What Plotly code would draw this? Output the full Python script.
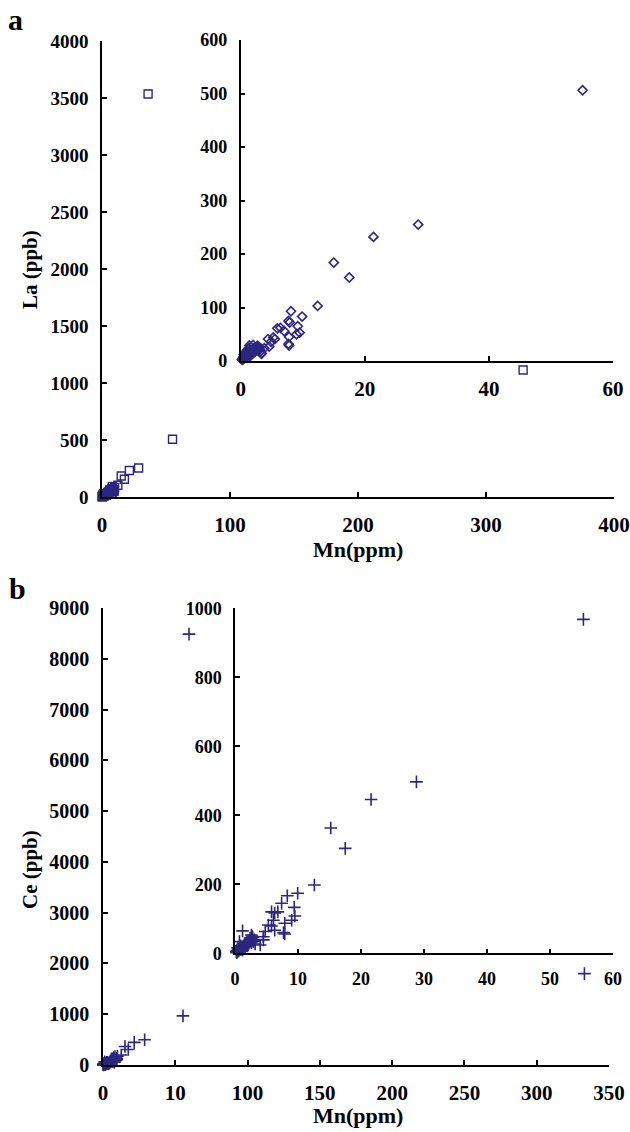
import plotly.graph_objects as go

# ---------- data: panel a (La vs Mn) ----------
mn_a = [55.1, 28.6, 21.4, 15.0, 17.5, 12.4, 8.1, 9.9, 7.7, 7.9, 9.2, 6.4, 5.9, 7.0, 9.5,
        9.0, 7.8, 7.7, 7.8, 5.25, 5.5, 4.4, 4.9, 4.6, 3.8, 3.4, 2.6, 2.0, 1.4,
        0.2, 0.3, 0.4, 0.5, 0.6, 0.7, 0.8, 0.9, 1.0, 1.1, 1.2, 1.3, 1.5, 1.6, 1.7, 1.8,
        1.9, 2.1, 2.2, 2.3, 2.4, 2.5, 2.7, 2.8, 2.9, 3.0, 3.1, 3.2, 0.5, 0.8, 1.0, 1.3,
        1.6, 2.0, 2.4, 2.8, 3.3, 0.3, 0.6, 1.1]
la_a = [506, 255, 232, 184, 156, 103, 93, 83, 75, 72, 65, 62, 61, 56, 53,
        50, 45, 32, 29, 44, 41, 41, 36, 27, 24, 14, 27, 30, 29,
        3, 5, 4, 8, 6, 10, 7, 12, 9, 14, 11, 15, 18, 13, 20, 16,
        22, 19, 25, 17, 21, 23, 28, 20, 24, 26, 22, 18, 12, 16, 20, 24,
        10, 15, 19, 27, 14, 2, 8, 6]
# extra points visible only on the main (full-range) plot
mn_a_extra = [36, 329]
la_a_extra = [3535, 1114]

# ---------- data: panel b (Ce vs Mn) ----------
mn_b = [55.3, 28.8, 21.6, 15.2, 17.5, 12.6, 9.95, 8.3, 7.4, 9.4, 9.5, 9.0, 7.9, 7.7, 7.9,
        5.8, 6.3, 6.8, 6.1, 5.3, 5.8, 6.3, 4.8, 4.5, 4.5, 4.0, 1.2, 2.6, 2.8, 2.9, 0.7,
        0.2, 0.3, 0.4, 0.5, 0.6, 0.8, 0.9, 1.0, 1.1, 1.3, 1.4, 1.5, 1.6, 1.7, 1.8, 1.9,
        2.0, 2.1, 2.2, 2.3, 2.4, 2.5, 2.6, 2.7, 2.8, 3.0, 3.2, 0.4, 0.9, 1.2, 1.6, 2.0,
        2.4, 2.7, 3.1, 0.3, 0.6]
ce_b = [968, 497, 446, 363, 304, 198, 174, 167, 145, 133, 108, 96, 87, 60, 56,
        120, 117, 120, 96, 82, 79, 67, 63, 48, 39, 24, 65, 53, 47, 34, 34,
        4, 8, 6, 12, 10, 15, 11, 18, 14, 20, 16, 24, 19, 28, 22, 30,
        26, 33, 29, 38, 35, 42, 31, 45, 40, 36, 27, 16, 22, 9, 26, 21,
        44, 50, 39, 2, 7]
mn_b_extra = [59.5, 333]
ce_b_extra = [8485, 1800]

COLOR = "#2d2680"
FONT = "Liberation Serif"


def tf(size):
    return dict(family=FONT, size=size, color="black", weight="bold")


fig = go.Figure()

# main a
fig.add_trace(go.Scatter(x=mn_a + mn_a_extra, y=la_a + la_a_extra, mode="markers",
                         marker=dict(symbol="square-open", size=8, color=COLOR,
                                     line=dict(width=1.4, color=COLOR)),
                         cliponaxis=False, xaxis="x", yaxis="y", showlegend=False))
# inset a
fig.add_trace(go.Scatter(x=mn_a, y=la_a, mode="markers",
                         marker=dict(symbol="diamond-open", size=7, color=COLOR,
                                     line=dict(width=1.6, color=COLOR)),
                         cliponaxis=False, xaxis="x2", yaxis="y2", showlegend=False))
# main b
fig.add_trace(go.Scatter(x=mn_b + mn_b_extra, y=ce_b + ce_b_extra, mode="markers",
                         marker=dict(symbol="cross-thin-open", size=9, color=COLOR,
                                     line=dict(width=1.6, color=COLOR)),
                         cliponaxis=False, xaxis="x3", yaxis="y3", showlegend=False))
# inset b
fig.add_trace(go.Scatter(x=mn_b, y=ce_b, mode="markers",
                         marker=dict(symbol="cross-thin-open", size=9, color=COLOR,
                                     line=dict(width=1.6, color=COLOR)),
                         cliponaxis=False, xaxis="x4", yaxis="y4", showlegend=False))

W, H = 630, 1132


def px(v):
    return v / W


def py(v):
    return 1 - v / H


common = dict(showgrid=False, zeroline=False, showline=True, linecolor="black",
              linewidth=1.5, ticks="inside", ticklen=5, tickwidth=1.5, tickcolor="black",
              automargin=False)

fig.update_layout(
    width=W, height=H,
    margin=dict(l=0, r=0, t=0, b=0, autoexpand=False),
    paper_bgcolor="white", plot_bgcolor="rgba(0,0,0,0)",
    xaxis=dict(domain=[px(102), px(614)], range=[0, 400], anchor="y",
               tickvals=[0, 100, 200, 300, 400], tickfont=tf(21), ticklabelstandoff=8, **common),
    yaxis=dict(domain=[py(497), py(41)], range=[0, 4000], anchor="x",
               tickvals=[0, 500, 1000, 1500, 2000, 2500, 3000, 3500, 4000],
               tickfont=tf(19), ticklabelstandoff=8, **common),
    xaxis2=dict(domain=[px(240.7), px(613)], range=[0, 60], anchor="y2",
                tickvals=[0, 20, 40, 60], tickfont=tf(21), ticklabelstandoff=8, **common),
    yaxis2=dict(domain=[py(361), py(40)], range=[0, 600], anchor="x2",
                tickvals=[0, 100, 200, 300, 400, 500, 600],
                tickfont=tf(18), ticklabelstandoff=8, **common),
    xaxis3=dict(domain=[px(103), px(609)], range=[0, 350], anchor="y3",
                tickvals=[0, 50, 100, 150, 200, 250, 300, 350],
                ticktext=["0", "10", "100", "150", "200", "250", "300", "350"],
                tickfont=tf(21), ticklabelstandoff=8, **common),
    yaxis3=dict(domain=[py(1065), py(608)], range=[0, 9000], anchor="x3",
                tickvals=[0, 1000, 2000, 3000, 4000, 5000, 6000, 7000, 8000, 9000],
                tickfont=tf(20), ticklabelstandoff=8, **common),
    xaxis4=dict(domain=[px(235), px(613)], range=[0, 60], anchor="y4",
                tickvals=[0, 10, 20, 30, 40, 50, 60], tickfont=tf(18),
                ticklabelstandoff=8, **common),
    yaxis4=dict(domain=[py(953.3), py(608.3)], range=[0, 1000], anchor="x4",
                tickvals=[0, 200, 400, 600, 800, 1000],
                tickfont=tf(18), ticklabelstandoff=8, **common),
)

ann = [
    dict(text="a", x=px(15), y=py(19), font=dict(family=FONT, size=30, color="black", weight="bold")),
    dict(text="b", x=px(17), y=py(588), font=dict(family=FONT, size=30, color="black", weight="bold")),
    dict(text="La (ppb)", x=px(30), y=py(270), textangle=-90,
         font=dict(family=FONT, size=21, color="black", weight="bold")),
    dict(text="Ce (ppb)", x=px(30), y=py(870), textangle=-90,
         font=dict(family=FONT, size=21, color="black", weight="bold")),
    dict(text="Mn(ppm)", x=px(358), y=py(549),
         font=dict(family=FONT, size=22, color="black", weight="bold")),
    dict(text="Mn(ppm)", x=px(358), y=py(1115),
         font=dict(family=FONT, size=22, color="black", weight="bold")),
]
for a in ann:
    a.update(xref="paper", yref="paper", showarrow=False, xanchor="center", yanchor="middle")
    fig.add_annotation(**a)

fig.write_html(
    "out.html",
    config={"displayModeBar": False},
    post_script="document.body.style.margin='0px';document.body.style.overflow='hidden';",
)
